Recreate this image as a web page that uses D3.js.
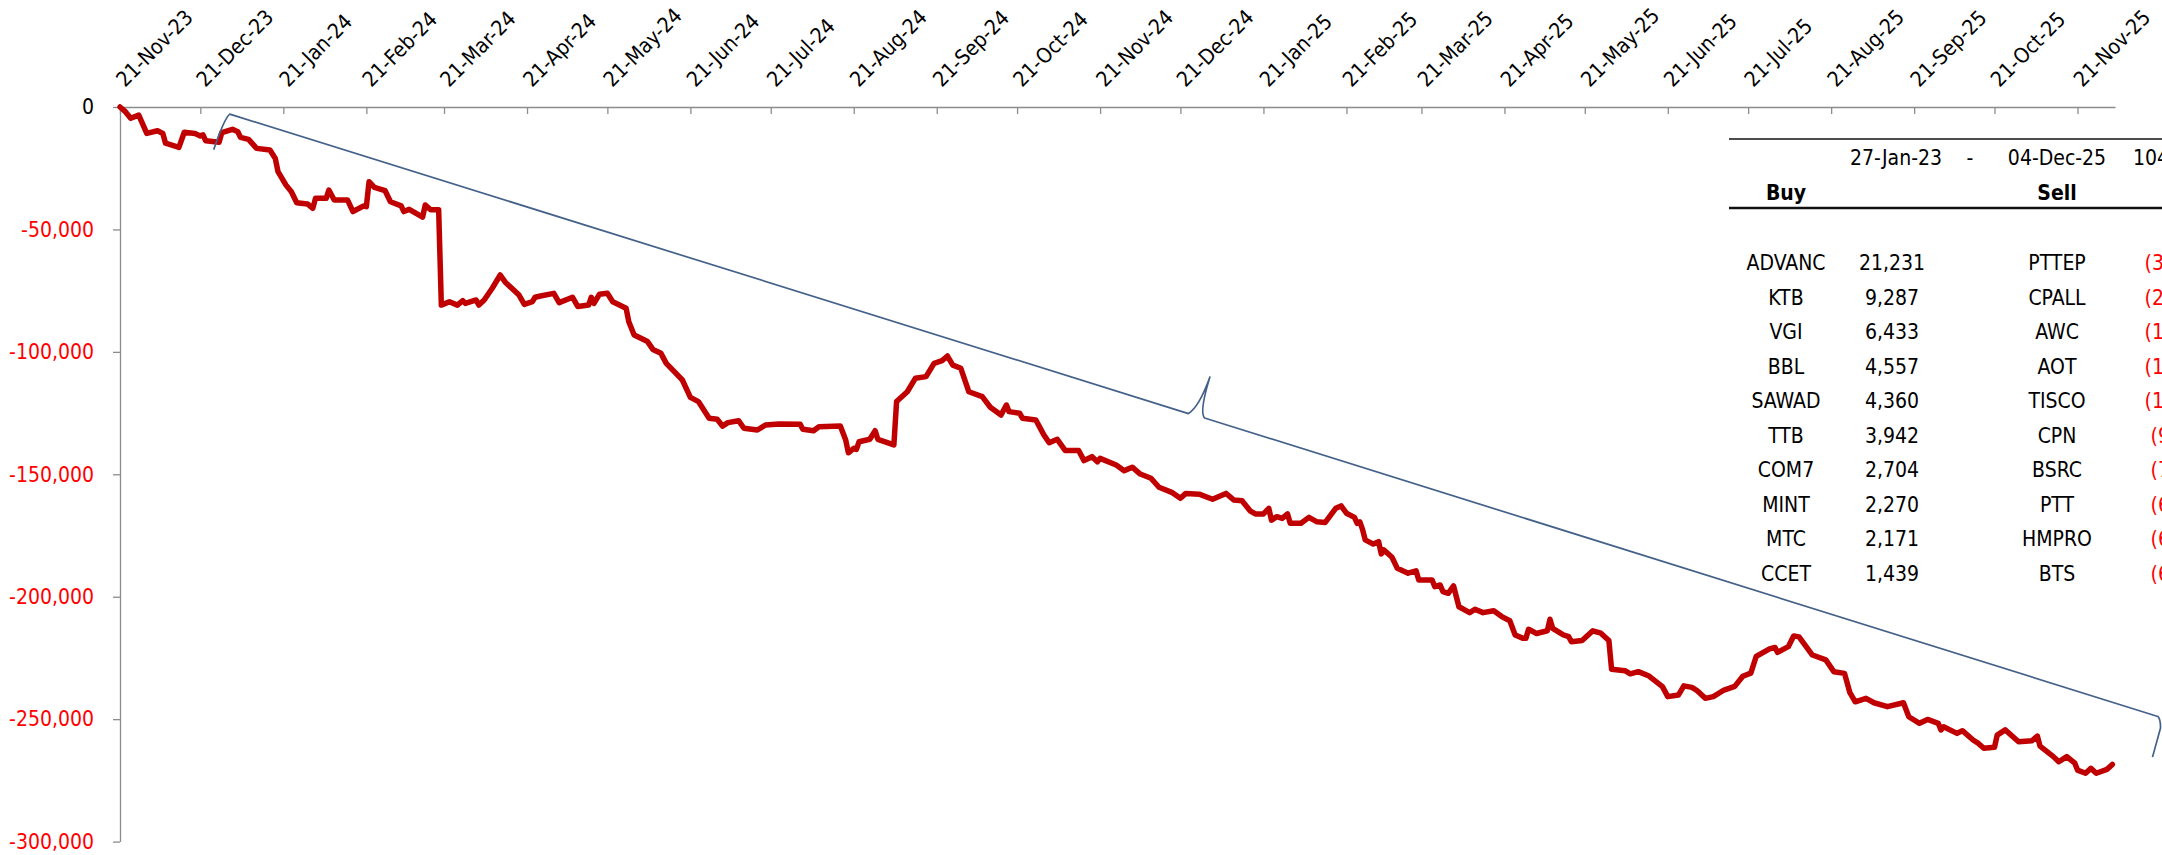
<!DOCTYPE html>
<html>
<head>
<meta charset="utf-8">
<script src="https://cdn.jsdelivr.net/npm/d3@7"></script>
<style>
  html, body { margin: 0; padding: 0; background: #fff; overflow: hidden; }
  svg { display: block; font-family: "DejaVu Sans Condensed", "DejaVu Sans", sans-serif; }
</style>
</head>
<body>
<div id="viz"></div>
<script>
// cumulative net flow
const dates = [
  "2023-11-21","2023-11-23","2023-11-25","2023-11-28","2023-12-01","2023-12-05","2023-12-07","2023-12-08",
  "2023-12-13","2023-12-15","2023-12-19","2023-12-21","2023-12-22","2023-12-23","2023-12-28","2023-12-29",
  "2024-01-02","2024-01-04","2024-01-05","2024-01-08","2024-01-11","2024-01-16","2024-01-18","2024-01-19",
  "2024-01-22","2024-01-24","2024-01-26","2024-01-30","2024-02-01","2024-02-02","2024-02-06","2024-02-07",
  "2024-02-09","2024-02-14","2024-02-16","2024-02-20","2024-02-21","2024-02-22","2024-02-24","2024-02-28",
  "2024-03-01","2024-03-05","2024-03-06","2024-03-08","2024-03-13","2024-03-14","2024-03-16","2024-03-19",
  "2024-03-20","2024-03-23","2024-03-26","2024-03-28","2024-03-29","2024-04-02","2024-04-03","2024-04-05",
  "2024-04-08","2024-04-11","2024-04-13","2024-04-18","2024-04-20","2024-04-23","2024-04-24","2024-04-26",
  "2024-05-01","2024-05-03","2024-05-08","2024-05-10","2024-05-14","2024-05-15","2024-05-16","2024-05-18",
  "2024-05-21","2024-05-23","2024-05-28","2024-05-29","2024-05-31","2024-06-05","2024-06-07","2024-06-10",
  "2024-06-12","2024-06-15","2024-06-18","2024-06-21","2024-06-24","2024-06-28","2024-07-01","2024-07-03",
  "2024-07-05","2024-07-09","2024-07-11","2024-07-16","2024-07-19","2024-07-24","2024-08-01","2024-08-02",
  "2024-08-06","2024-08-08","2024-08-16","2024-08-18","2024-08-19","2024-08-21","2024-08-22","2024-08-23",
  "2024-08-27","2024-08-29","2024-08-30","2024-09-05","2024-09-06","2024-09-10","2024-09-13","2024-09-17",
  "2024-09-20","2024-09-23","2024-09-25","2024-09-27","2024-09-30","2024-10-03","2024-10-08","2024-10-11",
  "2024-10-15","2024-10-17","2024-10-18","2024-10-22","2024-10-23","2024-10-28","2024-10-31","2024-11-02",
  "2024-11-05","2024-11-08","2024-11-13","2024-11-15","2024-11-18","2024-11-20","2024-11-21","2024-11-27",
  "2024-11-30","2024-12-03","2024-12-06","2024-12-10","2024-12-13","2024-12-18","2024-12-21","2024-12-23",
  "2024-12-28","2025-01-02","2025-01-07","2025-01-10","2025-01-13","2025-01-16","2025-01-18","2025-01-21",
  "2025-01-23","2025-01-24","2025-01-26","2025-01-28","2025-01-30","2025-01-31","2025-02-04","2025-02-07",
  "2025-02-10","2025-02-13","2025-02-17","2025-02-19","2025-02-21","2025-02-24","2025-02-25","2025-02-26",
  "2025-02-27","2025-02-28","2025-03-03","2025-03-05","2025-03-06","2025-03-07","2025-03-10","2025-03-12",
  "2025-03-16","2025-03-19","2025-03-20","2025-03-25","2025-03-26","2025-03-28","2025-03-29","2025-03-31",
  "2025-04-02","2025-04-04","2025-04-08","2025-04-10","2025-04-13","2025-04-17","2025-04-20","2025-04-23",
  "2025-04-25","2025-04-28","2025-04-29","2025-04-30","2025-05-03","2025-05-07","2025-05-08","2025-05-09",
  "2025-05-13","2025-05-15","2025-05-16","2025-05-20","2025-05-24","2025-05-27","2025-05-30","2025-05-31",
  "2025-06-05","2025-06-07","2025-06-10","2025-06-14","2025-06-19","2025-06-21","2025-06-25","2025-06-27",
  "2025-06-30","2025-07-02","2025-07-05","2025-07-08","2025-07-12","2025-07-16","2025-07-19","2025-07-22",
  "2025-07-24","2025-07-29","2025-07-31","2025-08-01","2025-08-05","2025-08-07","2025-08-09","2025-08-14",
  "2025-08-19","2025-08-22","2025-08-26","2025-08-28","2025-08-30","2025-09-03","2025-09-06","2025-09-11",
  "2025-09-17","2025-09-19","2025-09-23","2025-09-26","2025-09-30","2025-10-01","2025-10-02","2025-10-07",
  "2025-10-09","2025-10-13","2025-10-15","2025-10-17","2025-10-21","2025-10-22","2025-10-25","2025-10-30",
  "2025-11-04","2025-11-06","2025-11-07","2025-11-12","2025-11-14","2025-11-17","2025-11-20","2025-11-21",
  "2025-11-24","2025-11-26","2025-11-28","2025-12-02","2025-12-04"
];

const values = [
  0, -1900, -4600, -3300, -10800, -9700, -10800, -14800,
  -16500, -10300, -10800, -11800, -11400, -13800, -14400, -10500,
  -9100, -10100, -12400, -13200, -16900, -17600, -21000, -26400,
  -31900, -34600, -39100, -39600, -41400, -37300, -37300, -33900,
  -38000, -38000, -42700, -40400, -40700, -30500, -32800, -34200,
  -38700, -40400, -42700, -41800, -45000, -40000, -42000, -42000,
  -80900, -79500, -80900, -79100, -80200, -78800, -80900, -78800,
  -74000, -68600, -71700, -76800, -80600, -79500, -77700, -77200,
  -76100, -79900, -77700, -81500, -80900, -77700, -80200, -76500,
  -76100, -79500, -82200, -87700, -93100, -95800, -99000, -100600,
  -104700, -108100, -111500, -118600, -120300, -127100, -127500, -130300,
  -128900, -128100, -131200, -131900, -129900, -129500, -129600, -131600,
  -132200, -130600, -130300, -136000, -141200, -139400, -139800, -136700,
  -135700, -132200, -135700, -138000, -120300, -116300, -110800, -110100,
  -104700, -103600, -101700, -105400, -106700, -116300, -118300, -122600,
  -125800, -121700, -124400, -125100, -127100, -127800, -133900, -137100,
  -135700, -140300, -140300, -144400, -142800, -144900, -143500, -146200,
  -148500, -147100, -149900, -151600, -155300, -157500, -159800, -157800,
  -158100, -160200, -157800, -160500, -160800, -164900, -166200, -166200,
  -163900, -168700, -167300, -168000, -166200, -170000, -170000, -167600,
  -169400, -169700, -163900, -162900, -165900, -167600, -170000, -169400,
  -172500, -176800, -178500, -177500, -182500, -180900, -183900, -188400,
  -190400, -189400, -193200, -193200, -195900, -195200, -197900, -198600,
  -195600, -204100, -206500, -205100, -206500, -205700, -208100, -209800,
  -215600, -217000, -217000, -213300, -215000, -213900, -209200, -212900,
  -215600, -216300, -218400, -217900, -213900, -214900, -217900, -229600,
  -230200, -231500, -230600, -232400, -236700, -240800, -240100, -236400,
  -237000, -238400, -241500, -240800, -238100, -236600, -232500, -231200,
  -224400, -221300, -220700, -222700, -220400, -216000, -216400, -223800,
  -225800, -230600, -231300, -239200, -242900, -241500, -243300, -244900,
  -243300, -249000, -251700, -250100, -251700, -254400, -253100, -255800,
  -254700, -258500, -259900, -261900, -261500, -256500, -254400, -259200,
  -258800, -256900, -261000, -265300, -267400, -265300, -268000, -270800,
  -272100, -270100, -272100, -270500, -268500
];

const xTickDates = [
  "2023-11-21","2023-12-21","2024-01-21","2024-02-21","2024-03-21","2024-04-21","2024-05-21",
  "2024-06-21","2024-07-21","2024-08-21","2024-09-21","2024-10-21","2024-11-21","2024-12-21",
  "2025-01-21","2025-02-21","2025-03-21","2025-04-21","2025-05-21","2025-06-21","2025-07-21",
  "2025-08-21","2025-09-21","2025-10-21","2025-11-21"
];
const yTicks = [0, -50000, -100000, -150000, -200000, -250000, -300000];

// summary table
const periodLabels = ["27-Jan-23", "-", "04-Dec-25", "1042 days"];
const buyNames = ["ADVANC", "KTB", "VGI", "BBL", "SAWAD", "TTB", "COM7", "MINT", "MTC", "CCET"];
const buyValues = [21231, 9287, 6433, 4557, 4360, 3942, 2704, 2270, 2171, 1439];
const sellNames = ["PTTEP", "CPALL", "AWC", "AOT", "TISCO", "CPN", "BSRC", "PTT", "HMPRO", "BTS"];
const sellValues = [-31452, -24118, -15903, -13276, -10544, -9812, -7635, -6948, -6571, -6207];

// brace annotation, in chart units: [cmd, date, value, (date, value)]
const bracePath = [
  ["M", "2023-12-26", -17400],
  ["Q", "2023-12-30", -4500, "2024-01-01", -2900],
  ["L", "2024-12-24", -125200],
  ["Q", "2024-12-28", -122500, "2025-01-01", -110300],
  ["Q", "2024-12-28", -124600, "2024-12-30", -127000],
  ["L", "2025-12-21", -248900],
  ["Q", "2025-12-22", -249900, "2025-12-22", -253600],
  ["L", "2025-12-19", -265500]
];

const width = 2162;
const height = 855;
const parse = d3.timeParse("%Y-%m-%d");
const fmtDate = d3.timeFormat("%d-%b-%y");
const loc = d3.formatLocale({ decimal: ".", thousands: ",", grouping: [3], currency: ["", ""], minus: "-" });
const fmtNum = loc.format(",");

const series = dates.map((d, i) => ({ date: parse(d), value: values[i] }));

const svg = d3.select("#viz").append("svg")
    .attr("width", width)
    .attr("height", height);

const x = d3.scaleTime()
    .domain([parse("2023-11-21"), parse("2025-12-05")])
    .range([120, 2115]);

const y = d3.scaleLinear()
    .domain([-300000, 0])
    .range([841.6, 107]);

const axisColor = "#8c8c8c";

// y axis
const yAxis = svg.append("g")
    .attr("transform", `translate(${x.range()[0]},0)`)
    .call(d3.axisLeft(y).tickValues(yTicks).tickSize(7).tickSizeOuter(0).tickPadding(19).tickFormat(fmtNum));
yAxis.attr("font-family", null);
yAxis.select(".domain").attr("stroke", axisColor).attr("stroke-width", 1.3);
yAxis.selectAll(".tick line").attr("stroke", axisColor).attr("stroke-width", 1.3);
yAxis.selectAll(".tick text")
    .style("font-size", "21px")
    .attr("fill", d => d === 0 ? "#000" : "#ff0000");

// x axis along zero, labels above
const xAxis = svg.append("g")
    .attr("transform", `translate(0,${y(0)})`)
    .call(d3.axisBottom(x).tickValues(xTickDates.map(parse)).tickSize(7).tickSizeOuter(0).tickFormat(""));
xAxis.attr("font-family", null);
xAxis.select(".domain").attr("stroke", axisColor).attr("stroke-width", 1.3);
xAxis.selectAll(".tick line").attr("stroke", axisColor).attr("stroke-width", 1.3);

svg.append("g")
  .selectAll("text")
  .data(xTickDates.map(parse))
  .join("text")
    .attr("transform", d => `translate(${x(d) + 5},${y(0) - 19}) rotate(-45)`)
    .attr("text-anchor", "start")
    .style("font-size", "21px")
    .attr("fill", "#000")
    .text(d => fmtDate(d));

// main line
const line = d3.line()
    .x(d => x(d.date))
    .y(d => y(d.value));

svg.append("path")
    .datum(series)
    .attr("d", line)
    .attr("fill", "none")
    .attr("stroke", "#c00000")
    .attr("stroke-width", 5.5)
    .attr("stroke-linejoin", "round")
    .attr("stroke-linecap", "round");

// brace
const pt = (d, v) => `${x(parse(d))},${y(v)}`;
const braceD = bracePath.map(s => s[0] === "Q"
    ? `Q${pt(s[1], s[2])} ${pt(s[3], s[4])}`
    : `${s[0]}${pt(s[1], s[2])}`).join(" ");

svg.append("path")
    .attr("d", braceD)
    .attr("fill", "none")
    .attr("stroke", "#44618a")
    .attr("stroke-width", 1.7)
    .attr("stroke-linejoin", "round");

// table
const table = svg.append("g").style("font-size", "21px").attr("fill", "#000");
const colBuy = 1786, colBuyVal = 1892, colSell = 2057, colSellVal = 2185;
const rowY0 = 270, rowStep = 34.5;

table.append("line")
    .attr("x1", 1729).attr("x2", width + 40)
    .attr("y1", 139).attr("y2", 139)
    .attr("stroke", "#111").attr("stroke-width", 1.4);
table.append("line")
    .attr("x1", 1729).attr("x2", width + 40)
    .attr("y1", 208).attr("y2", 208)
    .attr("stroke", "#111").attr("stroke-width", 2.6);

const headX = [1896, 1970, 2057, 2133];
table.selectAll(".head")
  .data(periodLabels)
  .join("text")
    .attr("class", "head")
    .attr("x", (d, i) => headX[i])
    .attr("y", 165)
    .attr("text-anchor", (d, i) => i === 3 ? "start" : "middle")
    .text(d => d);

table.selectAll(".side")
  .data([["Buy", colBuy], ["Sell", colSell]])
  .join("text")
    .attr("class", "side")
    .attr("x", d => d[1])
    .attr("y", 200)
    .attr("text-anchor", "middle")
    .style("font-weight", "bold")
    .text(d => d[0]);

const rows = table.selectAll(".row")
  .data(buyNames.map((n, i) => ({ buy: n, bv: buyValues[i], sell: sellNames[i], sv: sellValues[i] })))
  .join("g")
    .attr("class", "row")
    .attr("transform", (d, i) => `translate(0,${rowY0 + i * rowStep})`);

rows.append("text").attr("x", colBuy).attr("text-anchor", "middle").text(d => d.buy);
rows.append("text").attr("x", colBuyVal).attr("text-anchor", "middle").text(d => fmtNum(d.bv));
rows.append("text").attr("x", colSell).attr("text-anchor", "middle").text(d => d.sell);
rows.append("text").attr("x", colSellVal).attr("text-anchor", "middle")
    .attr("fill", "#ff0000")
    .text(d => d.sv < 0 ? `(${fmtNum(-d.sv)})` : fmtNum(d.sv));
</script>
</body>
</html>
